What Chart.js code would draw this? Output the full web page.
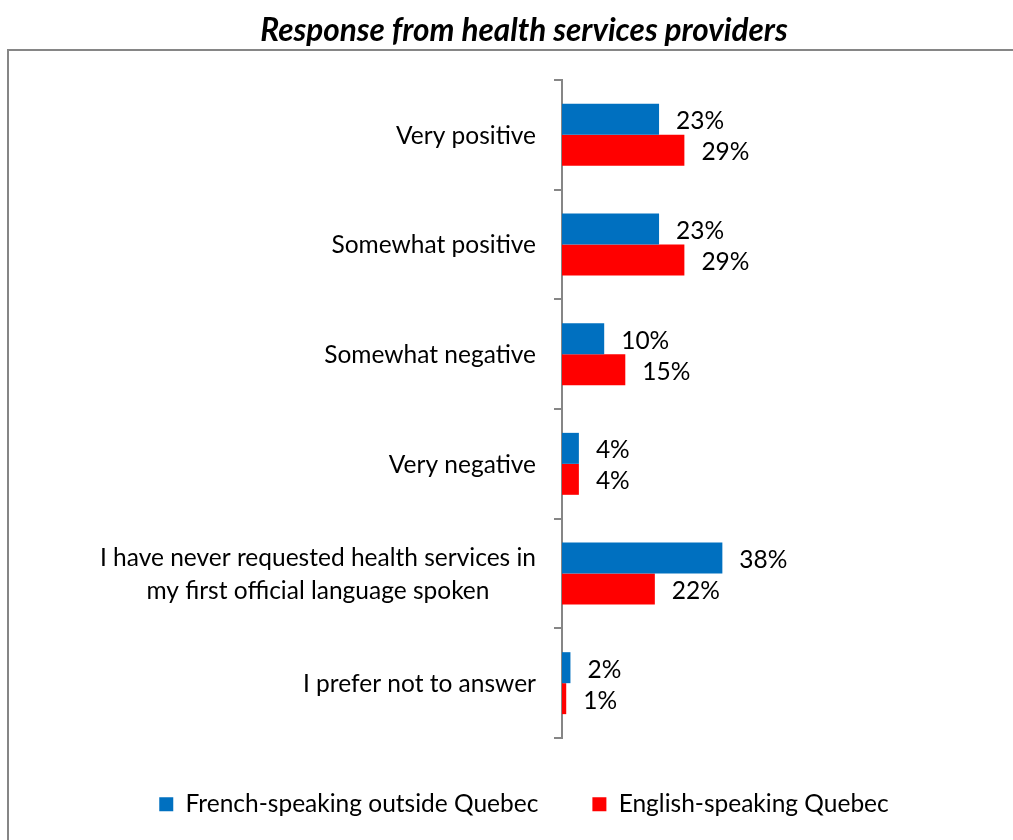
<!DOCTYPE html>
<html>
<head>
<meta charset="utf-8">
<script src="https://cdn.jsdelivr.net/npm/chart.js@4.4.1/dist/chart.umd.min.js"></script>
<style>
  html, body { margin: 0; padding: 0; background: #fff; }
  #wrap { width: 1013px; height: 840px; }
</style>
</head>
<body>
<div id="wrap"><canvas id="healthChart" width="1013" height="840"></canvas></div>
<script>
const categories = [
    'Very positive',
    'Somewhat positive',
    'Somewhat negative',
    'Very negative',
    ['I have never requested health services in', 'my first official language spoken'],
    'I prefer not to answer'
];
const frenchOutsideQuebec = [23, 23, 10, 4, 38, 2];
const englishQuebec = [29, 29, 15, 4, 22, 1];
const seriesNames = ['French-speaking outside Quebec', 'English-speaking Quebec'];

const FONT = 'Lato, "Open Sans", sans-serif';
const TEXT_SIZE = 24.5;
const AXIS_GREY = '#868686';

// frame drawn under the chart (title sits outside it)
const framePlugin = {
    id: 'frame',
    beforeDraw(chart) {
        const ctx = chart.ctx;
        ctx.save();
        ctx.strokeStyle = AXIS_GREY;
        ctx.lineWidth = 2;
        ctx.strokeRect(8, 50, 1100, 900);
        ctx.restore();
    }
};

// category labels: right side against the axis, lines centred on each other
const yLabelPlugin = {
    id: 'yLabels',
    afterDraw(chart) {
        const ctx = chart.ctx;
        const yScale = chart.scales.y;
        const rightX = yScale.right - 26;
        const lineH = 33;
        ctx.save();
        ctx.font = TEXT_SIZE + 'px ' + FONT;
        ctx.fillStyle = '#000';
        ctx.textAlign = 'center';
        ctx.textBaseline = 'middle';
        categories.forEach((cat, i) => {
            const lines = Array.isArray(cat) ? cat : [cat];
            const maxW = Math.max(...lines.map(l => ctx.measureText(l).width));
            const cx = rightX - maxW / 2;
            const cy = yScale.getPixelForValue(i) + 1;
            lines.forEach((l, j) => {
                ctx.fillText(l, cx, cy + (j - (lines.length - 1) / 2) * lineH);
            });
        });
        ctx.restore();
    }
};

// value labels to the right of each bar
const valueLabelPlugin = {
    id: 'valueLabels',
    afterDatasetsDraw(chart) {
        const ctx = chart.ctx;
        ctx.save();
        ctx.font = TEXT_SIZE + 'px ' + FONT;
        ctx.fillStyle = '#000';
        ctx.textAlign = 'left';
        ctx.textBaseline = 'middle';
        chart.data.datasets.forEach((ds, di) => {
            chart.getDatasetMeta(di).data.forEach((bar, i) => {
                ctx.fillText(ds.data[i] + '%', bar.x + 17, bar.y + 2);
            });
        });
        ctx.restore();
    }
};

new Chart(document.getElementById('healthChart').getContext('2d'), {
    type: 'bar',
    data: {
        labels: categories,
        datasets: [
            {
                label: seriesNames[0],
                data: frenchOutsideQuebec,
                backgroundColor: '#0070C0',
                borderWidth: 0
            },
            {
                label: seriesNames[1],
                data: englishQuebec,
                backgroundColor: '#FF0000',
                borderWidth: 0
            }
        ]
    },
    options: {
        indexAxis: 'y',
        responsive: false,
        animation: false,
        layout: { padding: { left: 64, right: 29, top: 0, bottom: 13.5 } },
        datasets: {
            bar: { categoryPercentage: 0.565, barPercentage: 1.0 }
        },
        scales: {
            x: {
                display: false,
                min: 0,
                max: 100
            },
            y: {
                afterFit(scale) { scale.width = 562 - 64; },
                ticks: { display: false },
                grid: {
                    drawOnChartArea: false,
                    offset: true,
                    tickLength: 8,
                    color: AXIS_GREY,
                    lineWidth: 2
                },
                border: { display: true, color: AXIS_GREY, width: 2 }
            }
        },
        plugins: {
            title: {
                display: true,
                text: 'Response from health services providers',
                color: '#000',
                font: { family: FONT, size: 31.5, weight: 'bold', style: 'italic' },
                padding: { top: 12, bottom: 30.2 }
            },
            legend: {
                position: 'bottom',
                labels: {
                    color: '#000',
                    font: { family: FONT, size: TEXT_SIZE },
                    boxWidth: 14,
                    boxHeight: 14,
                    padding: 54
                }
            },
            tooltip: { enabled: false }
        }
    },
    plugins: [framePlugin, yLabelPlugin, valueLabelPlugin]
});
</script>
</body>
</html>
